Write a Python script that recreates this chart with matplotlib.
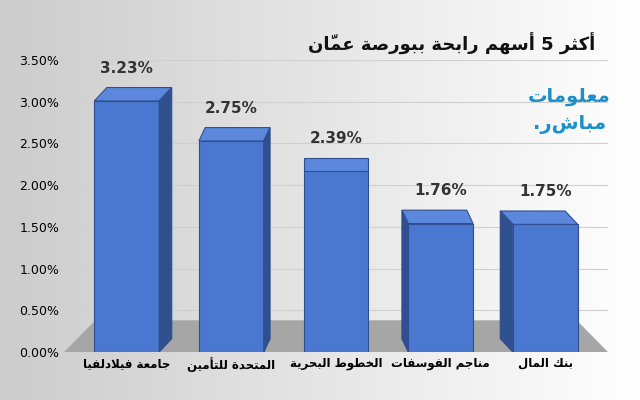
import matplotlib
matplotlib.use("Agg")
import matplotlib.pyplot as plt
from matplotlib.patches import Polygon
import numpy as np

title = "أكثر 5 أسهم رابحة ببورصة عمّان"
companies = ["جامعة فيلادلفيا", "المتحدة للتأمين", "الخطوط البحرية", "مناجم الفوسفات", "بنك المال"]
values = [3.23, 2.75, 2.39, 1.76, 1.75]
yticks = [0.0, 0.5, 1.0, 1.5, 2.0, 2.5, 3.0, 3.5]

# minimal arabic shaping: (isolated, final, initial, medial)
FORMS = {
    "ا": (0xFE8D, 0xFE8E, None, None), "أ": (0xFE83, 0xFE84, None, None),
    "ب": (0xFE8F, 0xFE90, 0xFE91, 0xFE92), "ة": (0xFE93, 0xFE94, None, None),
    "ت": (0xFE95, 0xFE96, 0xFE97, 0xFE98), "ث": (0xFE99, 0xFE9A, 0xFE9B, 0xFE9C),
    "ج": (0xFE9D, 0xFE9E, 0xFE9F, 0xFEA0), "ح": (0xFEA1, 0xFEA2, 0xFEA3, 0xFEA4),
    "خ": (0xFEA5, 0xFEA6, 0xFEA7, 0xFEA8), "د": (0xFEA9, 0xFEAA, None, None),
    "ر": (0xFEAD, 0xFEAE, None, None), "س": (0xFEB1, 0xFEB2, 0xFEB3, 0xFEB4),
    "ص": (0xFEB9, 0xFEBA, 0xFEBB, 0xFEBC), "ط": (0xFEC1, 0xFEC2, 0xFEC3, 0xFEC4),
    "ع": (0xFEC9, 0xFECA, 0xFECB, 0xFECC), "ف": (0xFED1, 0xFED2, 0xFED3, 0xFED4),
    "ق": (0xFED5, 0xFED6, 0xFED7, 0xFED8), "ك": (0xFED9, 0xFEDA, 0xFEDB, 0xFEDC),
    "ل": (0xFEDD, 0xFEDE, 0xFEDF, 0xFEE0), "م": (0xFEE1, 0xFEE2, 0xFEE3, 0xFEE4),
    "ن": (0xFEE5, 0xFEE6, 0xFEE7, 0xFEE8), "ه": (0xFEE9, 0xFEEA, 0xFEEB, 0xFEEC),
    "و": (0xFEED, 0xFEEE, None, None), "ي": (0xFEF1, 0xFEF2, 0xFEF3, 0xFEF4),
}
LAMALEF = {"ا": (0xFEFB, 0xFEFC), "أ": (0xFEF7, 0xFEF8)}


def shape(text):
    chars = list(text)
    out = []
    i = 0
    def prev_joins(k):
        j = k - 1
        while j >= 0 and chars[j] == "ّ":
            j -= 1
        return j >= 0 and chars[j] in FORMS and FORMS[chars[j]][2] is not None
    while i < len(chars):
        c = chars[i]
        if c not in FORMS:
            out.append(c)
            i += 1
            continue
        if c == "ل" and i + 1 < len(chars) and chars[i + 1] in LAMALEF:
            f = LAMALEF[chars[i + 1]]
            out.append(chr(f[1] if prev_joins(i) else f[0]))
            i += 2
            continue
        iso, fin, ini, med = FORMS[c]
        jp = prev_joins(i)
        j = i + 1
        while j < len(chars) and chars[j] == "ّ":
            j += 1
        jn = ini is not None and j < len(chars) and chars[j] in FORMS
        if jp and jn:
            out.append(chr(med))
        elif jp:
            out.append(chr(fin))
        elif jn:
            out.append(chr(ini))
        else:
            out.append(chr(iso))
        i += 1
    return "".join(out)[::-1]


plt.rcParams["font.family"] = ["DejaVu Sans"]
fig = plt.figure(figsize=(6.4, 4.0), dpi=100)
bg = fig.add_axes([0, 0, 1, 1], zorder=-10)
grad = np.linspace(0.80, 1.0, 256).reshape(1, -1)
bg.imshow(np.dstack([grad, grad, grad]), aspect="auto", extent=[0, 1, 0, 1])
bg.axis("off")

ax = fig.add_axes([0.1, 0.12, 0.85, 0.73])
ax.set_facecolor("none")
ax.set_xlim(-0.6, 4.6)
ax.set_ylim(0, 3.5)
ax.set_yticks(yticks)
ax.set_yticklabels([f"{t:.2f}%" for t in yticks], fontsize=9)
ax.yaxis.grid(True, color="#d0d0d0", lw=0.8)
ax.set_axisbelow(True)
ax.set_xticks(range(len(companies)))
ax.set_xticklabels([shape(c) for c in companies], fontsize=8.5, fontweight="bold")
ax.tick_params(length=0)
for s in ax.spines.values():
    s.set_visible(False)

# floor
ax.add_patch(Polygon([(-0.6, 0), (4.6, 0), (4.3, 0.38), (-0.3, 0.38)],
                     closed=True, fc="#a6a6a6", ec="none", zorder=1))

w = 0.62
d = 0.16
for i, v in enumerate(values):
    x0 = i - w / 2
    x1 = i + w / 2
    ox = (2 - i) * 0.06
    top = v - 0.22
    ax.add_patch(Polygon([(x0, 0), (x1, 0), (x1, top), (x0, top)],
                         fc="#4a78d0", ec="#2f4f8f", lw=0.8, zorder=3))
    ax.add_patch(Polygon([(x0, top), (x1, top), (x1 + ox, top + d), (x0 + ox, top + d)],
                         fc="#5b88dd", ec="#2f4f8f", lw=0.8, zorder=3))
    if ox > 0:
        ax.add_patch(Polygon([(x1, 0), (x1 + ox, d), (x1 + ox, top + d), (x1, top)],
                             fc="#2f4f8f", ec="#2f4f8f", lw=0.8, zorder=3))
    elif ox < 0:
        ax.add_patch(Polygon([(x0, 0), (x0 + ox, d), (x0 + ox, top + d), (x0, top)],
                             fc="#2f4f8f", ec="#2f4f8f", lw=0.8, zorder=3))
    ax.text(i, v + 0.08, f"{v:.2f}%", ha="center", va="bottom",
            fontsize=11, fontweight="bold", color="#333333", zorder=4)

fig.text(0.93, 0.89, shape(title), ha="right", va="center", fontsize=13,
         fontweight="bold", color="#111111")
fig.text(0.89, 0.76, shape("معلومات"), ha="center", va="center", fontsize=14,
         fontweight="bold", color="#1a8fc9")
fig.text(0.89, 0.69, "." + shape("مباشر"), ha="center", va="center", fontsize=14,
         fontweight="bold", color="#1a8fc9")

fig.savefig("out.png", dpi=100)
